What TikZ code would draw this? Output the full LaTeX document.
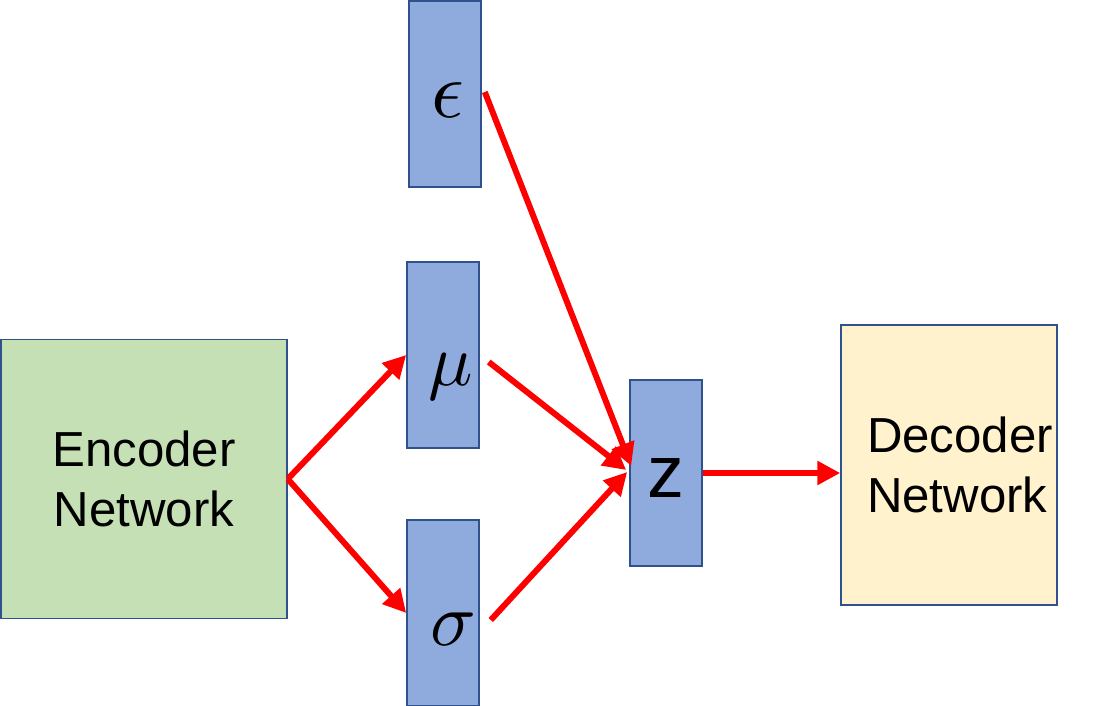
\documentclass[tikz,border=0pt]{standalone}
\usepackage{fontspec}
\setmainfont{Liberation Sans}
\usepackage{tikz}
\usetikzlibrary{positioning,arrows.meta}
\definecolor{bordure}{RGB}{47,82,143}
\definecolor{bleuc}{RGB}{143,170,220}
\definecolor{vertc}{RGB}{197,224,180}
\definecolor{jaunec}{RGB}{255,242,204}
\definecolor{rouge}{RGB}{255,0,0}
\newcommand{\grec}[2]{\scalebox{#1}{$#2$}}

\begin{document}
\begin{tikzpicture}[x=0.02cm, y=-0.02cm,
  net/.style 2 args={rectangle, draw=bordure, fill=#1, line width=0.9pt,
                     minimum width=#2, minimum height=5.58cm, inner sep=0pt,
                     align=center, font=\fontsize{28}{34}\selectfont},
  lat/.style={rectangle, draw=bordure, fill=bleuc, line width=0.9pt,
              minimum width=1.44cm, minimum height=3.72cm, inner sep=0pt},
  fl/.style={draw=rouge, line width=3.4pt, -{Triangle[length=13pt, width=13pt]}}]

\useasboundingbox (0,0) rectangle (1100,706);

% reseaux
\node[net={vertc}{5.72cm}] (enc) at (144,479) {Encoder\\ Network};
\node[net={jaunec}{4.32cm}, minimum height=5.6cm,
      label={[font=\fontsize{28}{34}\selectfont, align=left, xshift=0.22cm]center:Decoder\\ Network}]
      (dec) at (949,465) {};

% variables latentes
\node[lat, label={[xshift=0.06cm, yshift=-0.12cm]center:\grec{4.6}{\epsilon}}] (eps) at (445,94) {};
\node[lat, label={[xshift=0.16cm, yshift=-0.44cm]center:\grec{4.2}{\mu}}] (mu) at (443,355) {};
\node[lat, label={[xshift=0.2cm, yshift=-0.32cm]center:\grec{4.3}{\sigma}}] (sig) at (443,613) {};
\node[lat, label={[yshift=-0.1cm, font=\fontsize{42}{42}\selectfont]center:z}] (z) at (666,473) {};

% fleches
\draw[fl] (enc.east) -- (mu.west);
\draw[fl] (enc.east) -- (sig.west);
\draw[fl] ([shift={(9,7)}]mu.east) -- ([shift={(-3,-3)}]z.west);
\draw[fl] ([shift={(11,7)}]sig.east) -- ([shift={(-2,-1)}]z.west);
\draw[fl] ([shift={(3,-2)}]eps.east) -- ([shift={(2,-7)}]z.west);
\draw[fl] (z.east) -- (z.east -| dec.west);

\end{tikzpicture}
\end{document}
